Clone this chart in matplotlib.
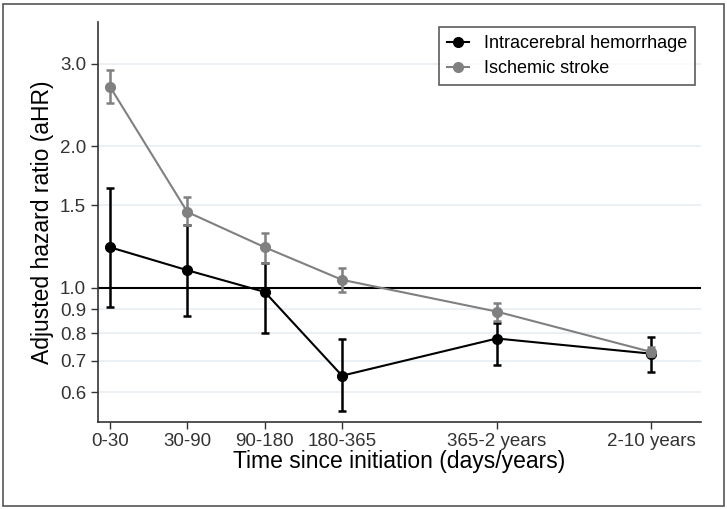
import matplotlib.pyplot as plt
import matplotlib.patches as patches
from matplotlib.lines import Line2D
import numpy as np

plt.rcParams['font.family'] = ['Liberation Sans', 'DejaVu Sans']

periods = ['0-30', '30-90', '90-180', '180-365', '365-2 years', '2-10 years']
xpos = [0, 1, 2, 3, 5, 7]

ich_hr = [1.22, 1.09, 0.98, 0.65, 0.78, 0.724]
ich_lo = [0.91, 0.87, 0.80, 0.547, 0.686, 0.663]
ich_hi = [1.63, 1.36, 1.13, 0.78, 0.84, 0.786]

is_hr = [2.68, 1.45, 1.22, 1.04, 0.89, 0.73]
is_lo = [2.48, 1.36, 1.13, 0.98, 0.85, 0.717]
is_hi = [2.91, 1.56, 1.31, 1.10, 0.93, 0.749]

yticks = [0.6, 0.7, 0.8, 0.9, 1.0, 1.5, 2.0, 3.0]

fig = plt.figure(figsize=(7.27, 5.09), dpi=100)
ax = fig.add_axes([0.1348, 0.1709, 0.8294, 0.7859])

# outer frame
fig.patches.append(patches.Rectangle((0.004, 0.006), 0.992, 0.986, transform=fig.transFigure,
                                     fill=False, edgecolor='#555555', linewidth=1.2))

for v in yticks:
    if v != 1.0:
        ax.axhline(v, color='#e6eef2', linewidth=1.2, zorder=0)
ax.axhline(1.0, color='black', linewidth=1.5, zorder=1)

ich = np.array(ich_hr)
isc = np.array(is_hr)
ax.errorbar(xpos, ich, yerr=[ich - np.array(ich_lo), np.array(ich_hi) - ich], color='black',
            marker='o', markersize=7, linewidth=1.5, elinewidth=1.8, capsize=3, capthick=1.8,
            zorder=3)
ax.errorbar(xpos, isc, yerr=[isc - np.array(is_lo), np.array(is_hi) - isc], color='#808080',
            marker='o', markersize=7, linewidth=1.5, elinewidth=1.8, capsize=3, capthick=1.8,
            zorder=4)

ax.set_yscale('log')
ax.set_ylim(0.518, 3.68)
ax.set_xlim(-0.155, 7.64)
ax.set_yticks(yticks)
ax.set_yticklabels(['%.1f' % v for v in yticks])
ax.minorticks_off()
ax.set_xticks(xpos)
ax.set_xticklabels(periods)

for s in ['top', 'right']:
    ax.spines[s].set_visible(False)
for s in ['left', 'bottom']:
    ax.spines[s].set_color('#333333')
    ax.spines[s].set_linewidth(1.2)
ax.tick_params(axis='both', labelsize=13.5, colors='#333333', length=5, width=1, direction='out')
ax.tick_params(axis='x', pad=3)

ax.set_ylabel('Adjusted hazard ratio (aHR)', fontsize=16.5, color='black', labelpad=4)
ax.set_xlabel('Time since initiation (days/years)', fontsize=16.5, color='black', labelpad=0)

handles = [Line2D([], [], color='black', marker='o', markersize=7, linewidth=1.5),
           Line2D([], [], color='#808080', marker='o', markersize=7, linewidth=1.5)]
leg = ax.legend(handles, ['Intracerebral hemorrhage', 'Ischemic stroke'], loc='upper right',
                bbox_to_anchor=(0.99, 0.9875), borderaxespad=0, fontsize=13, frameon=True,
                fancybox=False, edgecolor='#333333', handlelength=1.2, handletextpad=0.8,
                borderpad=0.45, labelspacing=0.45)
leg.get_frame().set_linewidth(1.2)

fig.savefig('out.png', dpi=100)
